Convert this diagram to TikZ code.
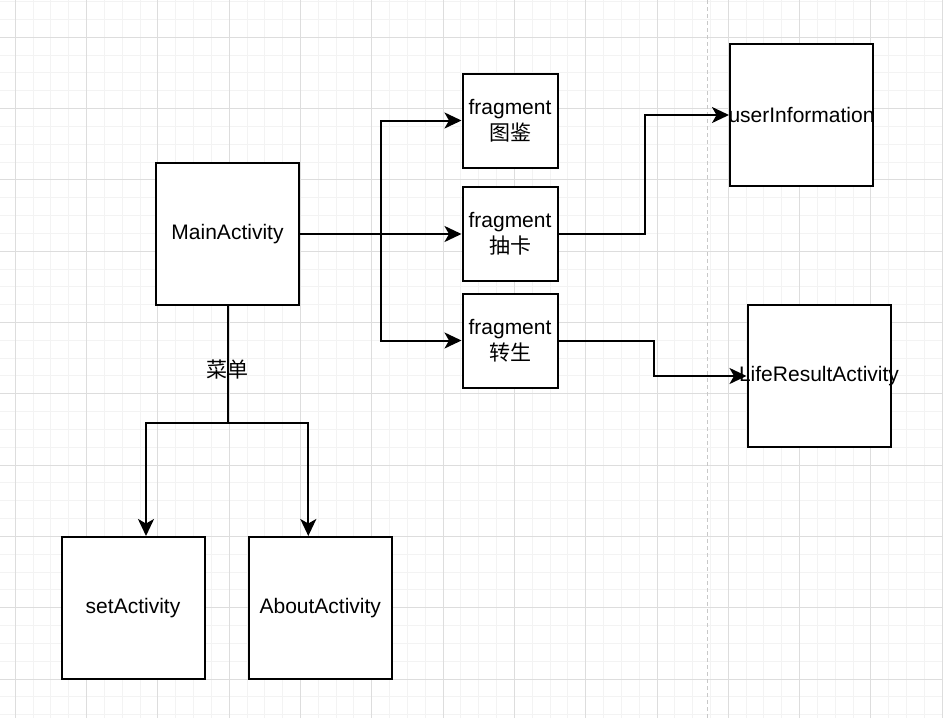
\documentclass[tikz,border=0pt]{standalone}
\usepackage{fontspec}
\setmainfont{Liberation Sans}
\newfontfamily\cjk{Noto Sans CJK SC}
\usetikzlibrary{arrows.meta}
\definecolor{gridminor}{HTML}{F3F3F3}
\definecolor{gridmajor}{HTML}{DDDDDD}
\definecolor{sepline}{HTML}{C8C8C8}
\tikzset{
  box/.style={draw, line width=2pt, fill=white, inner sep=0pt, align=center,
    font=\fontsize{21}{26}\selectfont},
  bigbox/.style={box, minimum width=143pt, minimum height=142pt},
  fragbox/.style={box, minimum width=95pt, minimum height=94pt},
  arr/.style={line width=2pt, -{Stealth[length=17pt, width=16pt, inset=4.5pt]}},
  plain/.style={line width=2pt},
  lbl/.style={font=\fontsize{21}{24}\selectfont\cjk, inner sep=0pt},
  boxtext/.style={font=\fontsize{21}{26}\selectfont, inner sep=0pt}
}
\begin{document}
\begin{tikzpicture}[x=1pt,y=-1pt]
\useasboundingbox (0,0) rectangle (943,718);
\fill[white] (0,0) rectangle (943,718);
\begin{scope}
\clip (0,0) rectangle (943,718);
\foreach \i in {-1,...,53} {
  \draw[gridminor, line width=1pt] ({15.3+\i*17.825},0) -- ({15.3+\i*17.825},718);
}
\foreach \j in {-3,...,38} {
  \draw[gridminor, line width=1pt] (0,{37.3+\j*17.825}) -- (943,{37.3+\j*17.825});
}
\foreach \i in {0,...,13} {
  \draw[gridmajor, line width=1pt] ({15.3+\i*71.3},0) -- ({15.3+\i*71.3},718);
}
\foreach \j in {-1,...,10} {
  \draw[gridmajor, line width=1pt] (0,{37.3+\j*71.3}) -- (943,{37.3+\j*71.3});
}
\end{scope}
\coordinate (sepTop) at (707,0);
\coordinate (sepBot) at (707,718);
\draw[sepline, line width=1pt, dash pattern=on 4pt off 3pt] (sepTop) -- (sepBot);

% nodes
\node[bigbox] (main) at (227.5,234) {MainActivity};
\node[fragbox] (f1) at (510,120.5) {fragment\\{\cjk 图鉴}};
\node[fragbox] (f2) at (510,234) {fragment\\{\cjk 抽卡}};
\node[fragbox] (f3) at (510,340.5) {fragment\\{\cjk 转生}};
\node[bigbox, label={[boxtext]center:userInformation}] (user) at (801.5,115) {};
\node[bigbox, label={[boxtext]center:LifeResultActivity}] (life) at (819,376) {};
\node[bigbox] (set) at (133,608) {setActivity};
\node[bigbox] (about) at (320.3,608) {AboutActivity};

% connectors
\draw[arr] (main.east) -- (f2.west);
\draw[arr] (main.east) -- ++(81,0) |- (f1.west);
\draw[arr] (main.east) -- ++(81,0) |- (f3.west);
\draw[arr] (f2.east) -- ++(86,0) |- (user.west);
\draw[arr] (f3.east) -- ++(95,0) |- (life.west);
\draw[plain] (main.south) -- node[lbl, pos=0.545] {菜单} ++(0,116.5) coordinate (menuJ);
\draw[arr] (menuJ) -| ([xshift=13pt]set.north);
\draw[arr] (menuJ) -| ([xshift=-12pt]about.north);
\end{tikzpicture}
\end{document}
